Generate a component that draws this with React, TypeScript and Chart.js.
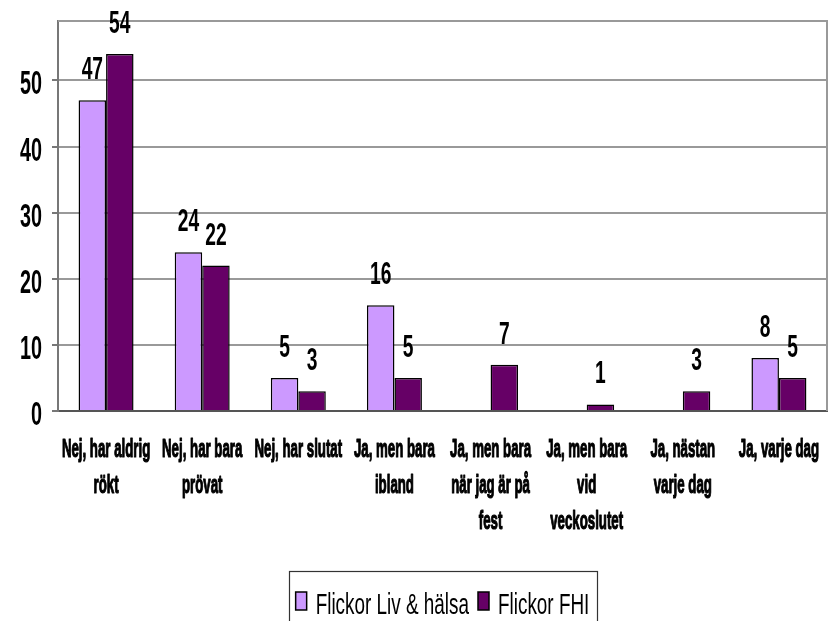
import React, { useEffect, useRef } from "react";
import { Chart, registerables } from "chart.js";

Chart.register(...registerables);

const categories: string[][] = [
  ["Nej, har aldrig", "rökt"],
  ["Nej, har bara", "prövat"],
  ["Nej, har slutat"],
  ["Ja, men bara", "ibland"],
  ["Ja, men bara", "när jag är på", "fest"],
  ["Ja, men bara", "vid", "veckoslutet"],
  ["Ja, nästan", "varje dag"],
  ["Ja, varje dag"],
];
const livHalsa: (number | null)[] = [47, 24, 5, 16, null, null, null, 8];
const fhi: (number | null)[] = [54, 22, 3, 5, 7, 1, 3, 5];
const yTicks: number[] = [0, 10, 20, 30, 40, 50];

const FONT = "'Liberation Sans', Arial, sans-serif";

function squeezeText(ctx: any, text: string, x: number, y: number, sx: number, align: string, stroke = 0) {
  ctx.save();
  ctx.translate(x, y);
  ctx.scale(sx, 1);
  ctx.textAlign = align;
  ctx.textBaseline = "alphabetic";
  if (stroke > 0) {
    ctx.lineWidth = stroke;
    ctx.strokeStyle = ctx.fillStyle;
    ctx.lineJoin = "round";
    ctx.strokeText(text, 0, 0);
  }
  ctx.fillText(text, 0, 0);
  ctx.restore();
}

const textPlugin = {
  id: "textPlugin",
  beforeDatasetsDraw(chart: any) {
    const { ctx, chartArea } = chart;
    ctx.save();
    ctx.strokeStyle = "#999";
    ctx.lineWidth = 2;
    ctx.beginPath();
    ctx.moveTo(chartArea.left, chartArea.top);
    ctx.lineTo(chartArea.right, chartArea.top);
    ctx.lineTo(chartArea.right, chartArea.bottom);
    ctx.stroke();
    ctx.restore();
  },
  afterDraw(chart: any) {
    const ctx = chart.ctx;
    const { chartArea } = chart;
    ctx.save();
    ctx.fillStyle = "#000";

    // y tick labels
    const ys = chart.scales.y;
    ctx.font = `bold 33px ${FONT}`;
    ys.ticks.forEach((t: any) => {
      const py = ys.getPixelForValue(t.value);
      squeezeText(ctx, String(t.value), chartArea.left - 16, py + 14, 0.6, "right");
    });

    // x category labels
    const xs = chart.scales.x;
    ctx.font = `bold 25px ${FONT}`;
    (chart.data.labels as string[][]).forEach((lines, i) => {
      const px = xs.getPixelForValue(i);
      lines.forEach((line, k) => {
        squeezeText(ctx, line, px, chartArea.bottom + 46 + k * 36, 0.53, "center", 1.2);
      });
    });

    // data labels
    ctx.font = `bold 31px ${FONT}`;
    chart.data.datasets.forEach((ds: any, i: number) => {
      const meta = chart.getDatasetMeta(i);
      meta.data.forEach((el: any, j: number) => {
        const v = ds.data[j];
        if (v === null || v === undefined) return;
        squeezeText(ctx, String(v), el.x, el.y - 21, 0.62, "center");
      });
    });

    // legend
    const sx = 0.63;
    ctx.font = `30px ${FONT}`;
    const items = chart.data.datasets.map((ds: any) => ({
      label: ds.label as string,
      color: ds.backgroundColor as string,
      w: ctx.measureText(ds.label).width * sx,
    }));
    const sq = 11, gapIn = 9, gapOut = 9, pad = 7;
    let total = pad * 2;
    items.forEach((it: any, i: number) => {
      total += sq + gapIn + it.w + (i < items.length - 1 ? gapOut : 0);
    });
    const cx = (chartArea.left + chartArea.right) / 2;
    let x = cx - total / 2;
    const top = 571;
    ctx.strokeStyle = "#333";
    ctx.lineWidth = 1.2;
    ctx.strokeRect(Math.round(x) + 0.5, top + 0.5, Math.round(total), 80);
    x += pad;
    items.forEach((it: any) => {
      ctx.fillStyle = it.color;
      ctx.fillRect(x, 592, sq, 18);
      ctx.strokeStyle = "#000";
      ctx.lineWidth = 1.5;
      ctx.strokeRect(x, 592, sq, 18);
      x += sq + gapIn;
      ctx.fillStyle = "#000";
      squeezeText(ctx, it.label, x, 614, sx, "left");
      x += it.w + gapOut;
    });
    ctx.restore();
  },
};

export default function App() {
  const ref = useRef<HTMLCanvasElement | null>(null);
  useEffect(() => {
    if (!ref.current) return;
    const chart = new Chart(ref.current, {
      type: "bar",
      data: {
        labels: categories,
        datasets: [
          {
            label: "Flickor Liv & hälsa",
            data: livHalsa,
            backgroundColor: "#CC99FF",
            borderColor: "#000",
            borderWidth: 1.5,
            categoryPercentage: 0.572,
            barPercentage: 1,
          },
          {
            label: "Flickor FHI",
            data: fhi,
            backgroundColor: "#660066",
            borderColor: "#000",
            borderWidth: 1.5,
            categoryPercentage: 0.572,
            barPercentage: 1,
          },
        ],
      },
      options: {
        animation: false,
        responsive: false,
        maintainAspectRatio: false,
        layout: { padding: { left: 52, right: 8, top: 21, bottom: 210 } },
        scales: {
          x: {
            grid: { display: false, drawTicks: false },
            border: { display: true, color: "#555", width: 2 },
            ticks: { display: false },
          },
          y: {
            min: 0,
            max: 59,
            afterBuildTicks: (scale: any) => {
              scale.ticks = yTicks.map((v) => ({ value: v }));
            },
            grid: { color: "#999", lineWidth: 2, tickLength: 6, drawTicks: true, tickColor: "#777" },
            border: { display: true, color: "#777", width: 2 },
            ticks: { display: false },
          },
        },
        plugins: {
          legend: { display: false },
          tooltip: { enabled: false },
        },
      },
      plugins: [textPlugin],
    });
    return () => chart.destroy();
  }, []);
  return (
    <div style={{ position: "absolute", left: 0, top: 0, width: 835, height: 621, background: "#fff" }}>
      <canvas ref={ref} width={835} height={621} style={{ width: 835, height: 621 }} />
    </div>
  );
}
